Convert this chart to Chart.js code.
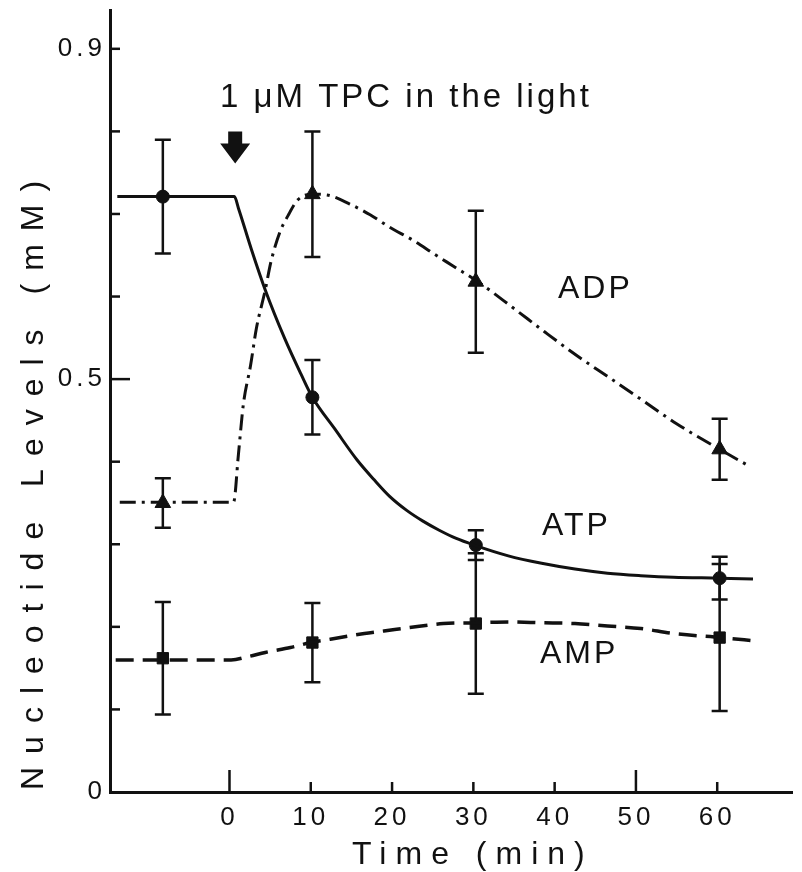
<!DOCTYPE html>
<html>
<head>
<meta charset="utf-8">
<script src="https://cdn.jsdelivr.net/npm/chart.js@4.4.1/dist/chart.umd.min.js"></script>
<style>
  html, body { margin: 0; padding: 0; background: #fff; }
</style>
</head>
<body>
<canvas id="chart" width="802" height="872"></canvas>
<script>
// sampling times (min) and measured levels (mM) +- error
const sampleTimes = [-8.2, 10.2, 30.3, 60.3];
const atpValues = [0.721, 0.478, 0.299, 0.259];
const atpErrors = [0.069, 0.045, 0.018, 0.026];
const adpValues = [0.350, 0.724, 0.618, 0.415];
const adpErrors = [0.030, 0.076, 0.086, 0.037];
const ampValues = [0.162, 0.181, 0.204, 0.187];
const ampErrors = [0.068, 0.048, 0.085, 0.089];

// hand drawn curves
const atpCurveTimes = [-13.8, -0.5, 0.6, 1.1, 2.7, 4.4, 6.8, 8.8, 10.2, 13.0, 15.7, 17.8, 19.7, 21.8, 23.8, 25.8, 27.9, 30.1, 34.3, 38.4, 42.5, 46.5, 50.6, 54.6, 60.3, 64.4];
const atpCurveValues = [0.721, 0.721, 0.721, 0.707, 0.657, 0.608, 0.549, 0.506, 0.478, 0.439, 0.402, 0.378, 0.358, 0.341, 0.328, 0.317, 0.307, 0.299, 0.286, 0.277, 0.270, 0.265, 0.262, 0.260, 0.259, 0.258];
const adpCurveTimes = [-13.5, -0.5, 0.5, 1.1, 1.7, 2.6, 3.3, 4.4, 5.1, 6.2, 7.2, 8.4, 10.2, 12.0, 14.8, 17.3, 19.7, 22.6, 25.1, 27.5, 30.7, 34.8, 38.8, 42.8, 47.0, 51.0, 55.0, 60.3, 63.5];
const adpCurveValues = [0.351, 0.351, 0.351, 0.409, 0.469, 0.517, 0.561, 0.608, 0.642, 0.678, 0.698, 0.717, 0.724, 0.723, 0.712, 0.699, 0.684, 0.668, 0.652, 0.637, 0.617, 0.587, 0.557, 0.528, 0.500, 0.473, 0.446, 0.415, 0.397];
const ampCurveTimes = [-14.0, 0.2, 2.3, 4.4, 7.5, 10.0, 12.4, 16.6, 19.0, 22.1, 26.3, 30.5, 34.3, 38.4, 42.5, 46.5, 50.6, 54.6, 60.5, 64.7];
const ampCurveValues = [0.160, 0.160, 0.164, 0.169, 0.175, 0.181, 0.185, 0.192, 0.195, 0.199, 0.204, 0.205, 0.206, 0.205, 0.204, 0.201, 0.198, 0.192, 0.187, 0.183];

// axes
const xTickValues = [0, 10, 20, 30, 40, 50, 60];
const yTickValues = [0, 0.1, 0.2, 0.3, 0.4, 0.5, 0.6, 0.7, 0.8, 0.9];
const yTickLabels = ['0', '', '', '', '', '0.5', '', '', '', '0.9'];

const ink = '#111';
const toPoints = (xs, ys) => xs.map((t, i) => ({ x: t, y: ys[i] }));

const errorSets = [
    { values: atpValues, errors: atpErrors },
    { values: adpValues, errors: adpErrors },
    { values: ampValues, errors: ampErrors }
];

function curve(label, xs, ys, dash, width) {
    return {
        type: 'line',
        label: label,
        data: toPoints(xs, ys),
        showLine: true,
        borderColor: ink,
        borderWidth: width,
        borderDash: dash,
        pointRadius: 0,
        cubicInterpolationMode: 'monotone',
        fill: false
    };
}

function markers(label, values, style, radius) {
    return {
        type: 'scatter',
        label: label,
        data: toPoints(sampleTimes, values),
        pointStyle: style,
        pointRadius: radius,
        backgroundColor: ink,
        borderColor: ink,
        borderWidth: 1
    };
}

function spacedText(ctx, text, x, y, size, spacing, rotate) {
    ctx.save();
    ctx.font = size + 'px "Liberation Sans", Arial, sans-serif';
    ctx.letterSpacing = spacing + 'px';
    ctx.fillStyle = ink;
    ctx.textAlign = 'left';
    ctx.textBaseline = 'alphabetic';
    ctx.translate(x, y);
    if (rotate) ctx.rotate(-Math.PI / 2);
    ctx.fillText(text, 0, 0);
    ctx.restore();
}

const figurePlugin = {
    id: 'figure',
    beforeDraw(chart) {
        chart.ctx.letterSpacing = '4px';
    },
    beforeDatasetsDraw(chart) {
        const { ctx, scales: { x, y } } = chart;
        ctx.save();
        ctx.letterSpacing = '0px';
        ctx.strokeStyle = ink;
        ctx.lineWidth = 2.5;
        errorSets.forEach(set => {
            sampleTimes.forEach((t, i) => {
                const px = x.getPixelForValue(t);
                const top = y.getPixelForValue(set.values[i] + set.errors[i]);
                const bottom = y.getPixelForValue(set.values[i] - set.errors[i]);
                ctx.beginPath();
                ctx.moveTo(px, top);
                ctx.lineTo(px, bottom);
                ctx.moveTo(px - 8, top);
                ctx.lineTo(px + 8, top);
                ctx.moveTo(px - 8, bottom);
                ctx.lineTo(px + 8, bottom);
                ctx.stroke();
            });
        });
        ctx.restore();
    },
    afterDraw(chart) {
        const { ctx, chartArea, scales: { x, y } } = chart;
        ctx.save();
        ctx.strokeStyle = ink;
        ctx.lineWidth = 2.5;
        // inward tick marks
        yTickValues.forEach(v => {
            if (v === 0) return;
            const py = y.getPixelForValue(v);
            const len = v === 0.5 ? 20 : 10;
            ctx.beginPath();
            ctx.moveTo(chartArea.left, py);
            ctx.lineTo(chartArea.left + len, py);
            ctx.stroke();
        });
        xTickValues.forEach(v => {
            const px = x.getPixelForValue(v);
            const len = (v === 0 || v === 50) ? 22 : 10;
            ctx.beginPath();
            ctx.moveTo(px, chartArea.bottom);
            ctx.lineTo(px, chartArea.bottom - len);
            ctx.stroke();
        });
        // arrow marking the addition
        const ax = x.getPixelForValue(0.7);
        const ay = y.getPixelForValue(0.80);
        ctx.fillStyle = ink;
        ctx.beginPath();
        ctx.moveTo(ax - 7, ay);
        ctx.lineTo(ax + 7, ay);
        ctx.lineTo(ax + 7, ay + 12);
        ctx.lineTo(ax + 15, ay + 12);
        ctx.lineTo(ax, ay + 32);
        ctx.lineTo(ax - 15, ay + 12);
        ctx.lineTo(ax - 7, ay + 12);
        ctx.closePath();
        ctx.fill();
        ctx.restore();

        spacedText(ctx, '1 \u03bcM TPC in the light', 220, 107, 33, 3);
        spacedText(ctx, 'ADP', 558, 298, 32, 3);
        spacedText(ctx, 'ATP', 542, 535, 32, 3);
        spacedText(ctx, 'AMP', 540, 663, 32, 3);
        spacedText(ctx, 'Time (min)', 352, 864, 32, 9);
        spacedText(ctx, 'Nucleotide Levels (mM)', 43, 790, 32, 13, true);
    }
};

const tickFont = { family: '"Liberation Sans", Arial, sans-serif', size: 26 };

new Chart(document.getElementById('chart'), {
    type: 'scatter',
    data: {
        datasets: [
            curve('ATP curve', atpCurveTimes, atpCurveValues, [], 3),
            curve('ADP curve', adpCurveTimes, adpCurveValues, [16, 6, 3, 6], 3),
            curve('AMP curve', ampCurveTimes, ampCurveValues, [18, 9], 3.5),
            markers('ATP', atpValues, 'circle', 6.5),
            markers('ADP', adpValues, 'triangle', 9),
            markers('AMP', ampValues, 'rect', 8)
        ]
    },
    options: {
        responsive: false,
        animation: false,
        layout: { padding: { top: 7, right: 2, left: 0, bottom: 0 } },
        plugins: {
            legend: { display: false },
            tooltip: { enabled: false }
        },
        scales: {
            x: {
                type: 'linear',
                min: -14.7,
                max: 69.2,
                grid: { display: false, drawTicks: false },
                border: { display: true, color: ink, width: 3 },
                ticks: {
                    color: ink,
                    font: tickFont,
                    padding: 10,
                    autoSkip: false,
                    maxRotation: 0
                },
                afterBuildTicks: scale => {
                    scale.ticks = xTickValues.map(v => ({ value: v }));
                },
                afterFit: scale => {
                    scale.height = 80;
                    scale.paddingLeft = 0;
                    scale.paddingRight = 0;
                }
            },
            y: {
                type: 'linear',
                min: 0,
                max: 0.947,
                grid: { display: false, drawTicks: false },
                border: { display: true, color: ink, width: 3 },
                ticks: {
                    color: ink,
                    font: tickFont,
                    padding: 4,
                    autoSkip: false,
                    callback: (value, index) => yTickLabels[index]
                },
                afterBuildTicks: scale => {
                    scale.ticks = yTickValues.map(v => ({ value: v }));
                },
                afterFit: scale => {
                    scale.width = 110;
                    scale.paddingTop = 0;
                    scale.paddingBottom = 0;
                }
            }
        }
    },
    plugins: [figurePlugin]
});
</script>
</body>
</html>
